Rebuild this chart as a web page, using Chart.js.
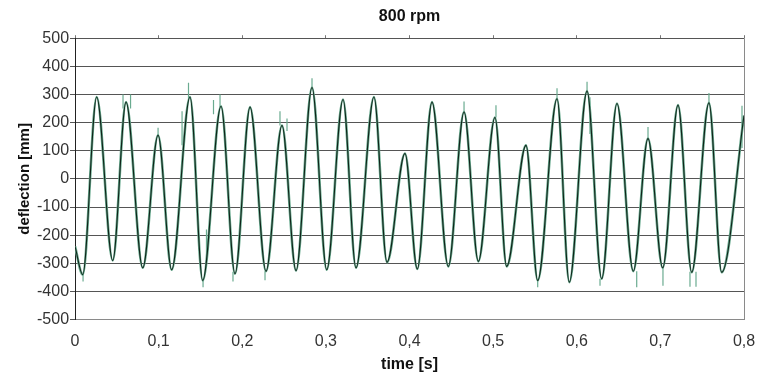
<!DOCTYPE html>
<html>
<head>
<meta charset="utf-8">
<script src="https://cdn.jsdelivr.net/npm/chart.js@4/dist/chart.umd.min.js"></script>
<style>
  html, body { margin: 0; padding: 0; background: #fff; }
  #wrap { width: 764px; height: 374px; }
</style>
</head>
<body>
<div id="wrap"><canvas id="myChart" width="764" height="374"></canvas></div>
<script>
// turning points of the deflection signal, time in s
const times = [
  0, 0.0092, 0.0259, 0.0451, 0.0610, 0.0810, 0.0993, 0.1156, 0.1375, 0.1527,
  0.1746, 0.1913, 0.2093, 0.2284, 0.2475, 0.2643, 0.2834, 0.3010, 0.3205, 0.3360,
  0.3575, 0.3731, 0.3946, 0.4093, 0.4269, 0.4464, 0.4652, 0.4823, 0.5022, 0.5162,
  0.5393, 0.5533, 0.5764, 0.5911, 0.6123, 0.6298, 0.6481, 0.6676, 0.6852, 0.7028,
  0.7211, 0.7375, 0.7581, 0.7733, 0.8
];
// smoothed deflection (black), mm
const smoothed = [
  -240, -340, 291, -290, 273, -316, 155, -323, 291, -361,
  258, -337, 255, -328, 190, -326, 325, -323, 282, -316,
  291, -296, 90, -320, 273, -311, 238, -293, 218, -311,
  119, -361, 285, -367, 312, -355, 268, -328, 143, -316,
  262, -332, 270, -332, 225
];
// measured deflection (green) follows the same path
const measured = smoothed.slice();

// short noise spikes in the measured signal
const spikeTimes = [
  0.0096, 0.0574, 0.0664, 0.0993, 0.1280, 0.1357, 0.1531, 0.1572, 0.1656, 0.1734,
  0.1889, 0.2272, 0.2451, 0.2535, 0.2834, 0.4652, 0.5034, 0.5533, 0.5764, 0.6123,
  0.6158, 0.6278, 0.6717, 0.6852, 0.7031, 0.7354, 0.7426, 0.7581, 0.7976
];
const spikeFrom = [
  -330, 250, 250, 150, 120, 285, -360, -300, 230, 255,
  -330, -328, 190, 170, 325, 238, 218, -361, 285, 312,
  290, -355, -328, 143, -316, -330, -330, 270, 260
];
const spikeTo = [
  -365, 300, 300, 182, 240, 342, -385, -180, 280, 300,
  -365, -360, 240, 215, 358, 275, 262, -385, 322, 345,
  160, -380, -385, 184, -380, -383, -383, 305, 110
];

const yTicks = [-500, -400, -300, -200, -100, 0, 100, 200, 300, 400, 500];

const spikePoints = [];
spikeTimes.forEach((t, i) => {
  spikePoints.push({x: t, y: spikeFrom[i]});
  spikePoints.push({x: t, y: spikeTo[i]});
  spikePoints.push({x: t, y: null});
});

const frame = {
  id: 'frame',
  afterDatasetsDraw(chart) {
    const {ctx, chartArea: a} = chart;
    ctx.save();
    ctx.strokeStyle = '#8a8a8a';
    ctx.lineWidth = 1;
    ctx.beginPath();
    ctx.moveTo(Math.round(a.right) + 0.5, a.top);
    ctx.lineTo(Math.round(a.right) + 0.5, a.bottom);
    ctx.stroke();
    ctx.restore();
  }
};

const comma = v => (Math.round(v * 10) / 10).toString().replace('.', ',');
const fam = '"Liberation Sans", Arial, sans-serif';

const config = {
  type: 'line',
  data: {
    datasets: [
      {
        label: 'spikes',
        data: spikePoints,
        borderColor: '#6aab90',
        borderWidth: 1.2,
        pointRadius: 0,
        spanGaps: false,
        tension: 0,
        order: 3
      },
      {
        label: 'measured',
        data: times.map((t, i) => ({x: t, y: measured[i]})),
        borderColor: '#6aab90',
        borderWidth: 2.6,
        pointRadius: 0,
        cubicInterpolationMode: 'monotone',
        order: 2
      },
      {
        label: 'smoothed',
        data: times.map((t, i) => ({x: t, y: smoothed[i]})),
        borderColor: '#10241a',
        borderWidth: 1.1,
        pointRadius: 0,
        cubicInterpolationMode: 'monotone',
        order: 1
      }
    ]
  },
  options: {
    responsive: false,
    animation: false,
    layout: { padding: { left: 16, right: 20, top: 3, bottom: 0 } },
    plugins: {
      legend: { display: false },
      tooltip: { enabled: false }
    },
    scales: {
      x: {
        type: 'linear',
        min: 0,
        max: 0.8,
        ticks: {
          stepSize: 0.1,
          callback: comma,
          color: '#333',
          padding: 4,
          font: { family: fam, size: 16 }
        },
        grid: { display: false },
        border: { display: true, color: '#8a8a8a', width: 1 },
        title: {
          display: true,
          text: 'time [s]',
          color: '#111',
          padding: { top: 0, bottom: 0 },
          font: { family: fam, size: 16, weight: 'bold' }
        }
      },
      x2: {
        type: 'linear',
        position: 'top',
        min: 0,
        max: 0.8,
        ticks: { display: false, stepSize: 0.1 },
        grid: { drawOnChartArea: false, tickLength: 3, color: '#777' },
        border: { display: false },
        title: {
          display: true,
          text: '800 rpm',
          color: '#111',
          padding: { top: 4, bottom: 9 },
          font: { family: fam, size: 16, weight: 'bold' }
        }
      },
      y: {
        min: -500,
        max: 500,
        afterBuildTicks: axis => { axis.ticks = yTicks.map(v => ({value: v})); },
        ticks: {
          color: '#333',
          padding: 1,
          font: { family: fam, size: 16 }
        },
        grid: { color: '#555', lineWidth: 1, tickLength: 5 },
        border: { display: true, color: '#222', width: 1 },
        title: {
          display: true,
          text: 'deflection [mm]',
          color: '#111',
          padding: { top: 0, bottom: 2 },
          font: { family: fam, size: 15, weight: 'bold' }
        }
      }
    }
  },
  plugins: [frame]
};

const wrapper = document.querySelector('#myChart');
const myChart = new Chart(wrapper, config);
</script>
</body>
</html>
